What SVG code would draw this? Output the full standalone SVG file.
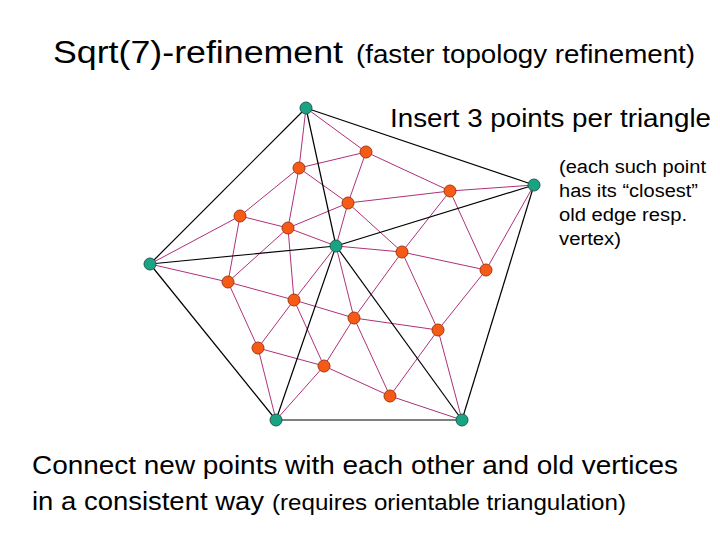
<svg xmlns="http://www.w3.org/2000/svg" width="720" height="540" viewBox="0 0 720 540">
<style>
text{font-family:"Liberation Sans",Arial,sans-serif;fill:#000}
.k line{stroke:#000;stroke-width:1.2}
.p line{stroke:#b0307a;stroke-width:1}
.g{fill:#1aa383;stroke:#1f5e50;stroke-width:1}
.r{fill:#f55a16;stroke:#a33a10;stroke-width:1}
</style>
<rect width="720" height="540" fill="#fff"/>
<g id="connectors">
<g class="p">
<line x1="306" y1="108" x2="299" y2="168"/><line x1="306" y1="108" x2="366" y2="152"/>
<line x1="366" y1="152" x2="299" y2="168"/><line x1="366" y1="152" x2="450" y2="191"/><line x1="366" y1="152" x2="348" y2="203"/>
<line x1="299" y1="168" x2="348" y2="203"/><line x1="299" y1="168" x2="288" y2="228"/><line x1="299" y1="168" x2="240" y2="216"/>
<line x1="348" y1="203" x2="450" y2="191"/><line x1="348" y1="203" x2="336" y2="246"/><line x1="348" y1="203" x2="288" y2="228"/><line x1="348" y1="203" x2="402" y2="252"/>
<line x1="240" y1="216" x2="288" y2="228"/><line x1="240" y1="216" x2="150" y2="264"/><line x1="240" y1="216" x2="228" y2="282"/>
<line x1="288" y1="228" x2="336" y2="246"/><line x1="288" y1="228" x2="228" y2="282"/><line x1="288" y1="228" x2="294" y2="300"/>
<line x1="150" y1="264" x2="228" y2="282"/>
<line x1="336" y1="246" x2="402" y2="252"/><line x1="336" y1="246" x2="294" y2="300"/><line x1="336" y1="246" x2="354" y2="318"/>
<line x1="228" y1="282" x2="294" y2="300"/><line x1="228" y1="282" x2="258" y2="348"/>
<line x1="294" y1="300" x2="354" y2="318"/><line x1="294" y1="300" x2="258" y2="348"/><line x1="294" y1="300" x2="324" y2="366"/>
<line x1="354" y1="318" x2="402" y2="252"/><line x1="354" y1="318" x2="438" y2="330"/><line x1="354" y1="318" x2="324" y2="366"/><line x1="354" y1="318" x2="390" y2="396"/>
<line x1="258" y1="348" x2="324" y2="366"/><line x1="258" y1="348" x2="276" y2="420"/>
<line x1="324" y1="366" x2="276" y2="420"/><line x1="324" y1="366" x2="390" y2="396"/>
<line x1="390" y1="396" x2="438" y2="330"/><line x1="390" y1="396" x2="462" y2="420"/>
<line x1="438" y1="330" x2="462" y2="420"/><line x1="438" y1="330" x2="486" y2="270"/><line x1="438" y1="330" x2="402" y2="252"/>
<line x1="402" y1="252" x2="450" y2="191"/><line x1="402" y1="252" x2="486" y2="270"/>
<line x1="450" y1="191" x2="534" y2="185"/><line x1="450" y1="191" x2="486" y2="270"/>
<line x1="486" y1="270" x2="534" y2="185"/>
</g>
<g class="k">
<line x1="306" y1="108" x2="534" y2="185"/><line x1="534" y1="185" x2="462" y2="420"/><line x1="462" y1="420" x2="276" y2="420"/><line x1="276" y1="420" x2="150" y2="264"/><line x1="150" y1="264" x2="306" y2="108"/>
<line x1="336" y1="246" x2="306" y2="108"/><line x1="336" y1="246" x2="534" y2="185"/><line x1="336" y1="246" x2="462" y2="420"/><line x1="336" y1="246" x2="276" y2="420"/><line x1="336" y1="246" x2="150" y2="264"/>
</g>
</g>
<g id="old-vertices">
<circle id="vA" class="g" cx="306" cy="108" r="6"/><circle id="vB" class="g" cx="534" cy="185" r="6"/><circle id="vC" class="g" cx="150" cy="264" r="6"/>
<circle id="vD" class="g" cx="336" cy="246" r="6"/><circle id="vE" class="g" cx="276" cy="420" r="6"/><circle id="vF" class="g" cx="462" cy="420" r="6"/>
</g>
<g id="new-points">
<circle id="p1" class="r" cx="366" cy="152" r="6"/><circle id="p2" class="r" cx="299" cy="168" r="6"/><circle id="p3" class="r" cx="450" cy="191" r="6"/>
<circle id="p4" class="r" cx="348" cy="203" r="6"/><circle id="p5" class="r" cx="240" cy="216" r="6"/><circle id="p6" class="r" cx="288" cy="228" r="6"/>
<circle id="p7" class="r" cx="402" cy="252" r="6"/><circle id="p8" class="r" cx="486" cy="270" r="6"/><circle id="p9" class="r" cx="228" cy="282" r="6"/>
<circle id="p10" class="r" cx="294" cy="300" r="6"/><circle id="p11" class="r" cx="354" cy="318" r="6"/><circle id="p12" class="r" cx="438" cy="330" r="6"/>
<circle id="p13" class="r" cx="258" cy="348" r="6"/><circle id="p14" class="r" cx="324" cy="366" r="6"/><circle id="p15" class="r" cx="390" cy="396" r="6"/>
</g>
<g id="texts">
<text x="53" y="63" font-size="31" textLength="290" lengthAdjust="spacingAndGlyphs">Sqrt(7)-refinement</text>
<text x="356" y="63" font-size="25" textLength="339" lengthAdjust="spacingAndGlyphs">(faster topology refinement)</text>
<text x="390" y="127" font-size="25" textLength="321" lengthAdjust="spacingAndGlyphs">Insert 3 points per triangle</text>
<text x="559" y="173" font-size="18" textLength="147" lengthAdjust="spacingAndGlyphs">(each such point</text>
<text x="559" y="197" font-size="18" textLength="139" lengthAdjust="spacingAndGlyphs">has its “closest”</text>
<text x="559" y="221" font-size="18" textLength="128" lengthAdjust="spacingAndGlyphs">old edge resp.</text>
<text x="559" y="245" font-size="18" textLength="62" lengthAdjust="spacingAndGlyphs">vertex)</text>
<text x="32" y="474" font-size="26" textLength="646" lengthAdjust="spacingAndGlyphs">Connect new points with each other and old vertices</text>
<text x="32" y="510" font-size="26" textLength="232" lengthAdjust="spacingAndGlyphs">in a consistent way</text>
<text x="272" y="510" font-size="22" textLength="354" lengthAdjust="spacingAndGlyphs">(requires orientable triangulation)</text>
</g>
</svg>
